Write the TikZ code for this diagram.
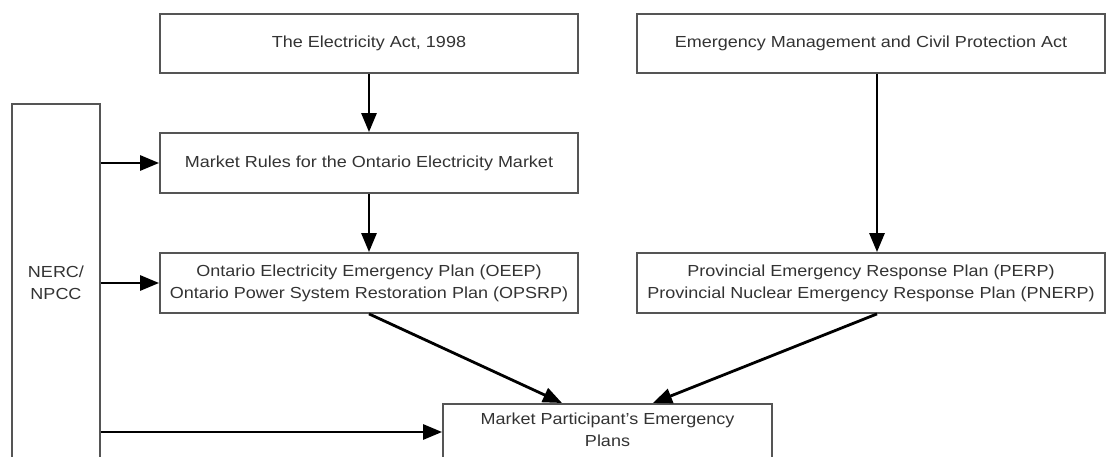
\documentclass[tikz,border=0pt]{standalone}
\usepackage{fontspec}
\setmainfont{Liberation Sans}[FakeStretch=1.125]
\usetikzlibrary{arrows.meta}
\definecolor{boxgray}{HTML}{555555}
\definecolor{txtgray}{HTML}{333333}
\begin{document}
\begin{tikzpicture}[x=1pt,y=-1pt,
  box/.style={draw=boxgray, line width=1.8pt, fill=white, rectangle, inner sep=0pt,
    align=center, text=txtgray, font=\fontsize{16}{22}\selectfont},
  label/.style={inner sep=0pt, align=center, text=txtgray, font=\fontsize{16}{22}\selectfont},
  conn/.style={draw=black, line width=2.8pt, -{Triangle[length=19pt,width=15pt]}}]
\clip (0,0) rectangle (1107,457);
\fill[white] (0,0) rectangle (1107,457);

\node[box, minimum width=418pt, minimum height=59pt] (act) at (369,43.5) {The Electricity Act, 1998};
\node[box, minimum width=468pt, minimum height=59pt] (emcpa) at (871,43.5) {Emergency Management and Civil Protection Act};
\node[box, minimum width=418pt, minimum height=60pt] (mr) at (369,163) {Market Rules for the Ontario Electricity Market};
\node[box, minimum width=418pt, minimum height=60pt] (oeep) at (369,283) {Ontario Electricity Emergency Plan (OEEP)\\Ontario Power System Restoration Plan (OPSRP)};
\node[box, minimum width=468pt, minimum height=60pt] (perp) at (871,283) {Provincial Emergency Response Plan (PERP)\\Provincial Nuclear Emergency Response Plan (PNERP)};
\node[box, minimum width=329pt, minimum height=72pt, anchor=north] (mp) at (607.5,403) {};
\node[label] (mptext) at (607.5,430) {Market Participant's Emergency\\Plans};
\node[box, minimum width=88pt, minimum height=358pt] (nerc) at (56,283) {NERC/\\NPCC};

\coordinate (xe) at (877,0);
\coordinate (xl) at (562,0);
\coordinate (xr) at (653,0);
\coordinate (ymp) at (0,432);

\draw[conn] (act.south) -- (mr.north);
\draw[conn] (mr.south) -- (oeep.north);
\draw[conn] (emcpa.south -| xe) -- (perp.north -| xe);
\draw[conn] (oeep.south) -- (mp.north -| xl);
\draw[conn] (perp.south -| xe) -- (mp.north -| xr);
\draw[conn] (nerc.east |- mr.west) -- (mr.west);
\draw[conn] (nerc.east |- oeep.west) -- (oeep.west);
\draw[conn] (nerc.east |- ymp) -- (mp.west |- ymp);
\end{tikzpicture}
\end{document}
